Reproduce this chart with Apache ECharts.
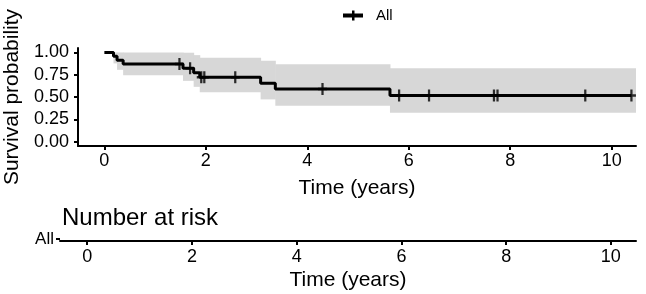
<!DOCTYPE html>
<html>
<head>
<meta charset="utf-8">
<script src="https://cdn.jsdelivr.net/npm/echarts@6/dist/echarts.min.js"></script>
<style>
  html, body { margin: 0; padding: 0; background: #fff; }
  #chart { width: 646px; height: 294px; }
</style>
</head>
<body>
<div id="chart"></div>
<script>
// Kaplan-Meier curve
var eventTimes = [0, 0.18, 0.25, 0.37, 1.55, 1.76, 1.88, 3.08, 3.37, 5.63];
var survival   = [1, 0.957, 0.913, 0.870, 0.824, 0.772, 0.721, 0.655, 0.590, 0.516];
var lastTime = 10.39;

// confidence band, one step per interval after each event
var bandLower = [1, 0.877, 0.805, 0.743, 0.681, 0.614, 0.553, 0.473, 0.401, 0.324];
var bandUpper = [1, 1.000, 1.000, 1.000, 0.997, 0.970, 0.940, 0.907, 0.867, 0.822];
var bandEnd = 10.48;

// censored observations (time, survival at that time)
var censorTimes = [1.48, 1.69, 1.91, 1.97, 2.58, 4.30, 5.81, 6.40, 7.68, 7.75, 9.48, 10.39];
var censorSurv  = [0.870, 0.824, 0.721, 0.721, 0.721, 0.590, 0.516, 0.516, 0.516, 0.516, 0.516, 0.516];

var timeTicks = [0, 2, 4, 6, 8, 10];
var survTicks = [0, 0.25, 0.5, 0.75, 1];
var strata = ['All'];

var FONT = 'Liberation Sans, Arial, sans-serif';
var PLUS = 'path://M3.75,0h2.5v4.75h3.75v2.5h-3.75v4.75h-2.5v-4.75h-3.75v-2.5h3.75z';
var LEGEND_ICON = 'path://M0,3h9v-3h2.5v3h8.5v4h-8.5v3h-2.5v-3h-9z';

var curveData = [];
for (var i = 0; i < eventTimes.length; i++) curveData.push([eventTimes[i], survival[i]]);
curveData.push([lastTime, survival[survival.length - 1]]);

var bandData = [];
for (var j = 0; j < eventTimes.length; j++) {
  var end = j + 1 < eventTimes.length ? eventTimes[j + 1] : bandEnd;
  bandData.push([eventTimes[j], end, bandLower[j], bandUpper[j]]);
}

var censorData = censorTimes.map(function (t, k) { return [t, censorSurv[k]]; });

var axisLineStyle = { color: '#000', width: 2 };

var chart = echarts.init(document.getElementById('chart'));
chart.setOption({
  animation: false,
  textStyle: { fontFamily: FONT, color: '#000' },
  title: {
    text: 'Number at risk',
    left: 62, top: 206, padding: 0,
    textStyle: { fontFamily: FONT, fontSize: 24, fontWeight: 'normal', color: '#000' }
  },
  legend: {
    data: [{ name: 'All', icon: LEGEND_ICON }],
    left: 338, top: 3,
    itemWidth: 20, itemHeight: 10,
    itemStyle: { color: '#000' },
    textStyle: { fontFamily: FONT, fontSize: 15, color: '#000', padding: [0, 0, 0, 8] }
  },
  grid: [
    { left: 78, right: 10, top: 48, height: 98, outerBoundsMode: 'none' },
    { left: 60, right: 10, top: 237, height: 4, outerBoundsMode: 'none' }
  ],
  xAxis: [
    {
      gridIndex: 0, type: 'value', min: -0.52, max: 10.48,
      name: 'Time (years)', nameLocation: 'middle', nameGap: 32,
      nameTextStyle: { fontFamily: FONT, fontSize: 21, color: '#000' },
      axisLine: { show: true, onZero: false, lineStyle: axisLineStyle },
      axisTick: { show: true, length: 4, customValues: timeTicks, lineStyle: axisLineStyle },
      axisLabel: { customValues: timeTicks, margin: 6, fontSize: 18, color: '#000', fontFamily: FONT },
      splitLine: { show: false }
    },
    {
      gridIndex: 1, type: 'value', min: -0.52, max: 10.48,
      name: 'Time (years)', nameLocation: 'middle', nameGap: 29,
      nameTextStyle: { fontFamily: FONT, fontSize: 21, color: '#000' },
      axisLine: { show: true, onZero: false, lineStyle: axisLineStyle },
      axisTick: { show: true, length: 4, customValues: timeTicks, lineStyle: axisLineStyle },
      axisLabel: { customValues: timeTicks, margin: 7, fontSize: 18, color: '#000', fontFamily: FONT },
      splitLine: { show: false }
    }
  ],
  yAxis: [
    {
      gridIndex: 0, type: 'value', min: -0.05, max: 1.05,
      name: 'Survival probability', nameLocation: 'middle', nameGap: 54,
      nameTextStyle: { fontFamily: FONT, fontSize: 21, color: '#000' },
      axisLine: { show: true, onZero: false, lineStyle: axisLineStyle },
      axisTick: { show: true, length: 4, customValues: survTicks, lineStyle: axisLineStyle },
      axisLabel: {
        customValues: survTicks, margin: 9, fontSize: 18, color: '#000', fontFamily: FONT,
        formatter: function (v) { return v.toFixed(2); }
      },
      splitLine: { show: false }
    },
    {
      gridIndex: 1, type: 'category', data: strata,
      axisLine: { show: false, onZero: false },
      axisTick: { show: true, length: 4, alignWithLabel: true, lineStyle: axisLineStyle },
      axisLabel: { margin: 6, fontSize: 17, color: '#000', fontFamily: FONT },
      splitLine: { show: false }
    }
  ],
  series: [
    {
      name: 'band', type: 'custom', xAxisIndex: 0, yAxisIndex: 0, z: 1,
      silent: true, clip: true,
      encode: { x: [0, 1], y: [2, 3] },
      data: bandData,
      renderItem: function (params, api) {
        var p0 = api.coord([api.value(0), api.value(3)]);
        var p1 = api.coord([api.value(1), api.value(2)]);
        return {
          type: 'rect',
          shape: { x: p0[0], y: p0[1], width: p1[0] - p0[0] + 0.5, height: p1[1] - p0[1] },
          style: { fill: '#d7d7d7' }
        };
      }
    },
    {
      name: 'All', type: 'line', step: 'end', xAxisIndex: 0, yAxisIndex: 0, z: 3,
      data: curveData,
      showSymbol: false, symbol: 'none',
      itemStyle: { color: '#000' },
      lineStyle: { color: '#000', width: 3 }
    },
    {
      name: 'All', type: 'scatter', xAxisIndex: 0, yAxisIndex: 0, z: 4,
      data: censorData,
      symbol: PLUS, symbolSize: [9, 12],
      itemStyle: { color: '#000' }
    }
  ]
});
</script>
</body>
</html>
